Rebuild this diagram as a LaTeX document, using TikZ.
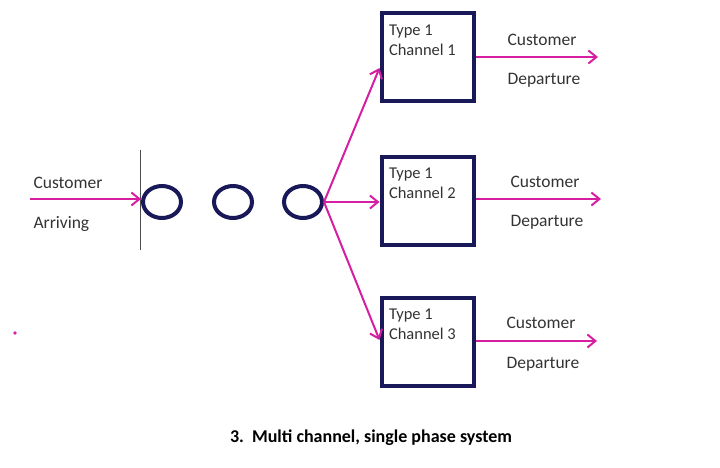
\documentclass[tikz,border=0pt]{standalone}
\usepackage{fontspec}
\setmainfont{Carlito}
\usetikzlibrary{arrows.meta,calc,shapes.geometric}
\definecolor{mag}{RGB}{214,30,160}
\definecolor{navy}{RGB}{25,25,90}
\begin{document}
\begin{tikzpicture}[x=1pt,y=-1pt,
  flow/.style={draw=mag,line width=2pt,-{Straight Barb[length=8pt,width=13pt,line width=2pt]}},
  q/.style={draw=navy,line width=4pt,ellipse,minimum width=38pt,minimum height=32pt,inner sep=0},
  ch/.style={draw=navy,line width=4pt,minimum width=92pt,minimum height=88pt,inner sep=0},
  lab/.style={font=\fontsize{17.5}{19}\selectfont,text=black!80,anchor=west},
  blab/.style={font=\fontsize{16.5}{20}\selectfont,text=black!80,align=left,anchor=north west}]
\useasboundingbox (0,0) rectangle (720,468);
\node[q] (c1) at (162,202) {};
\node[q] (c2) at (233,202) {};
\node[q] (c3) at (303,202) {};
\node[ch] (b1) at (427.5,57.5) {};
\node[ch] (b2) at (427.5,200.5) {};
\node[ch] (b3) at (427.5,341.5) {};
\node[blab] (t1) at ($(b1.north west)+(6,10)$) {Type 1\\Channel 1};
\node[blab] (t2) at ($(b2.north west)+(6,10)$) {Type 1\\Channel 2};
\node[blab] (t3) at ($(b3.north west)+(6,10)$) {Type 1\\Channel 3};
\coordinate (vt) at (140,150); \coordinate (vb) at (140,250);
\draw[black!70,line width=1pt] (vt) -- (vb);
\coordinate (in) at (30,199); \coordinate (inE) at (141,199);
\draw[flow] (in) -- (inE);
\node[lab] (ca) at (30,183) {Customer};
\node[lab] (ar) at (30,224) {Arriving};
\coordinate (o1) at (598,57); \coordinate (o2) at (601,199); \coordinate (o3) at (597,341);
\draw[flow] (c3.east) -- (b1.west|-0,68);
\draw[flow] (c3.east) -- (b2.west|-c3.east);
\draw[flow] (c3.east) -- (b3.west|-0,340);
\draw[flow] (b1.east|-o1) -- (o1);
\draw[flow] (b2.east|-o2) -- (o2);
\draw[flow] (b3.east|-o3) -- (o3);
\node[lab] (d1a) at (504,40) {Customer};
\node[lab] (d1b) at (504,80) {Departure};
\node[lab] (d2a) at (507,182) {Customer};
\node[lab] (d2b) at (507,222) {Departure};
\node[lab] (d3a) at (503,323) {Customer};
\node[lab] (d3b) at (503,364) {Departure};
\node[fill=mag,circle,inner sep=1.3pt] (dot) at (15,333) {};
\node[font=\bfseries\fontsize{18}{20}\selectfont] (cap) at (371,438) {3.\ \ Multi channel, single phase system};
\end{tikzpicture}
\end{document}
